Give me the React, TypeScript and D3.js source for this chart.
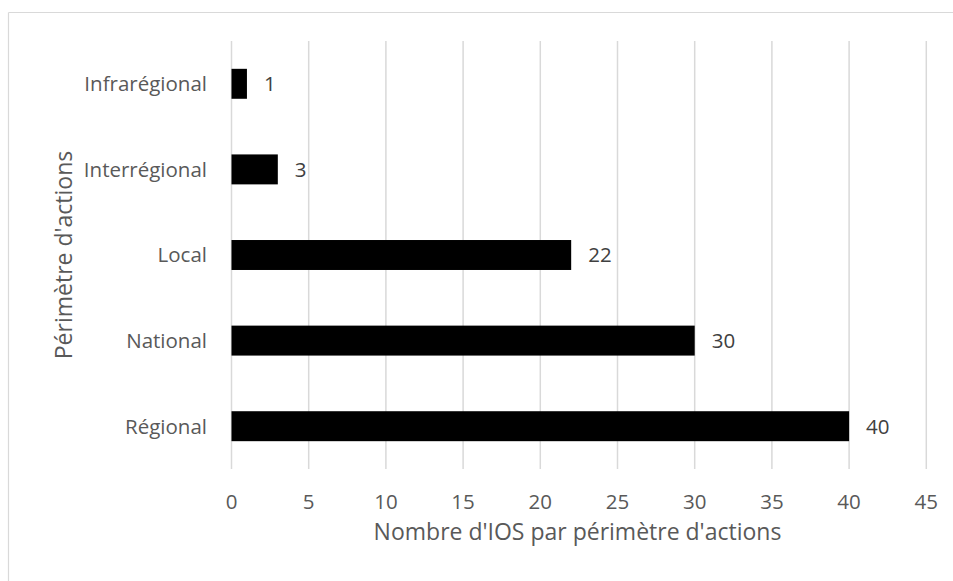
import React from "react";
import * as d3 from "d3";

const categories = ["Infrarégional", "Interrégional", "Local", "National", "Régional"];
const values = [1, 3, 22, 30, 40];
const xTicks = [0, 5, 10, 15, 20, 25, 30, 35, 40, 45];
const xTitle = "Nombre d'IOS par périmètre d'actions";
const yTitle = "Périmètre d'actions";

const W = 953;
const H = 581;
const FONT = "'Open Sans', sans-serif";
const TXT = "#595959";
const GRID = "#d9d9d9";

export default function App() {
  const x = d3.scaleLinear().domain([0, 45]).range([231.5, 926.3]);
  const y = d3
    .scaleBand<string>()
    .domain(categories)
    .range([41, 469])
    .paddingInner(0.65)
    .paddingOuter(0.325);

  return (
    <svg
      width={W}
      height={H}
      style={{ position: "fixed", left: 0, top: 0, background: "#fff" }}
      fontFamily={FONT}
    >
      <rect x={0} y={0} width={W} height={H} fill="#fff" />
      <line x1={8.5} y1={12.5} x2={W} y2={12.5} stroke={GRID} strokeWidth={1.2} />
      <line x1={8.5} y1={12.5} x2={8.5} y2={H} stroke={GRID} strokeWidth={1.2} />

      {xTicks.map((t) => (
        <line
          key={"g" + t}
          x1={x(t)}
          x2={x(t)}
          y1={41}
          y2={469}
          stroke={GRID}
          strokeWidth={1.5}
        />
      ))}

      {categories.map((c, i) => (
        <rect
          key={"b" + c}
          x={x(0)}
          y={y(c)!}
          width={x(values[i]) - x(0)}
          height={y.bandwidth()}
          fill="#000"
        />
      ))}

      {categories.map((c, i) => (
        <text
          key={"v" + c}
          x={x(values[i]) + 17}
          y={y(c)! + y.bandwidth() / 2}
          dy="0.36em"
          fontSize={20.5}
          fill="#404040"
        >
          {values[i]}
        </text>
      ))}

      {categories.map((c) => (
        <text
          key={"c" + c}
          x={207}
          y={y(c)! + y.bandwidth() / 2}
          dy="0.36em"
          textAnchor="end"
          fontSize={20.5}
          fill={TXT}
        >
          {c}
        </text>
      ))}

      {xTicks.map((t) => (
        <text
          key={"t" + t}
          x={x(t)}
          y={509}
          textAnchor="middle"
          fontSize={20.5}
          fill={TXT}
        >
          {t}
        </text>
      ))}

      <text
        x={(373 + 782) / 2}
        y={540}
        textAnchor="middle"
        fontSize={23}
        fill={TXT}
      >
        {xTitle}
      </text>

      <text
        transform={`translate(72, ${(41 + 469) / 2}) rotate(-90)`}
        textAnchor="middle"
        fontSize={23}
        fill={TXT}
      >
        {yTitle}
      </text>
    </svg>
  );
}
